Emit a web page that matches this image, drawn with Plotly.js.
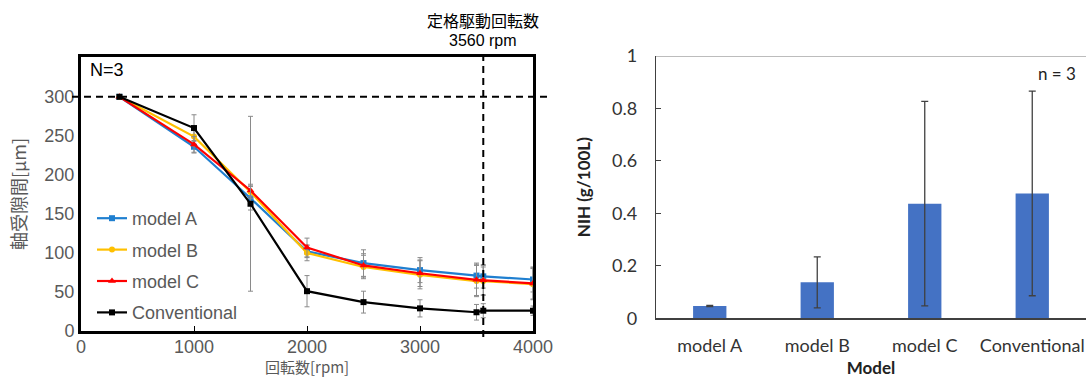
<!DOCTYPE html>
<html>
<head>
<meta charset="utf-8">
<script src="https://cdn.plot.ly/plotly-3.0.1.min.js"></script>
<style>html,body{margin:0;padding:0;background:#fff;}#chart{width:1086px;height:378px;}</style>
</head>
<body>
<div id="chart"></div>
<script>
// ---- Left chart data (axial clearance vs rotation speed) ----
const speeds = [340, 1000, 1500, 2000, 2500, 3000, 3500, 3560, 4000];
const modelA = [300, 236, 170, 102, 87, 78, 71, 70, 66];
const modelB = [300, 249, 178, 100, 82, 72, 64, 64, 60];
const modelC = [300, 239, 180, 107, 84, 74, 65.5, 65, 61];
const conventional = [300, 260, 163, 51, 37, 29, 24, 26, 26];
const errA = [0, 8, 15, 8, 17, 16, 16, 15, 16];
const errB = [0, 12, 8, 10, 15, 18, 20, 18, 20];
const errC = [0, 10, 8, 12, 15, 17, 20, 19, 20];
const errConv = [0, 17, 112, 20, 14, 11, 10, 9, 6];
const seriesNames = ['model A', 'model B', 'model C', 'Conventional'];
const initialGap = 300;
const ratedSpeed = 3560;
const leftYTicks = [0, 50, 100, 150, 200, 250, 300];
const leftXTicks = [0, 1000, 2000, 3000, 4000];
const leftXTitle = '回転数[rpm]';

// ---- Right chart data (NIH by model) ----
const models = ['model A', 'model B', 'model C', 'Conventional'];
const nih = [0.047, 0.137, 0.437, 0.476];
const nihErr = [0.002, 0.097, 0.39, 0.39];
const rightYTicks = [0, 0.2, 0.4, 0.6, 0.8, 1];
const rightYTickText = ['0', '0.2', '0.4', '0.6', '0.8', '1'];

const W = 1086, H = 378;
const px = v => v / W;
const py = v => (H - v) / H;

const sansL = 'Liberation Sans, Arial, sans-serif';
const cjk = 'Noto Sans CJK JP, sans-serif';
const sansR = 'Lato, Open Sans, sans-serif';
const grayTxt = '#595959';

const lineSeries = [
  {y: modelA, e: errA, color: '#1F7FD0', symbol: 'square'},
  {y: modelB, e: errB, color: '#FFC000', symbol: 'circle'},
  {y: modelC, e: errC, color: '#FF0000', symbol: 'triangle-up'},
  {y: conventional, e: errConv, color: '#000000', symbol: 'square'}
];

const traces = lineSeries.map((s, i) => ({
  type: 'scatter', mode: 'lines+markers', name: seriesNames[i],
  x: speeds, y: s.y, xaxis: 'x', yaxis: 'y', legendgroup: 'g' + i,
  line: {color: s.color, width: 2.2},
  marker: {color: s.color, symbol: s.symbol, size: s.symbol === 'triangle-up' ? 7 : 6},
  error_y: {type: 'data', array: s.e, visible: true, color: '#8a8a8a', thickness: 1, width: 2.5}
}));

traces.push({
  type: 'bar', x: models, y: nih, xaxis: 'x2', yaxis: 'y2', showlegend: false,
  width: 0.31, marker: {color: '#4472C4'},
  error_y: {type: 'data', array: nihErr, visible: true, color: '#404040', thickness: 1.3, width: 3.5}
});

const layout = {
  width: W, height: H,
  margin: {l: 0, r: 0, t: 0, b: 0},
  paper_bgcolor: '#fff', plot_bgcolor: '#fff',
  showlegend: true,
  legend: {
    x: px(92), y: py(200), xanchor: 'left', yanchor: 'top',
    bgcolor: 'rgba(0,0,0,0)', tracegroupgap: 5,
    font: {family: sansL, size: 18, color: grayTxt}
  },
  xaxis: {
    domain: [px(81), px(533)], anchor: 'y', range: [0, 4000],
    tickvals: leftXTicks, ticks: 'inside', ticklen: 5, tickcolor: '#000',
    showline: true, mirror: true, linecolor: '#000', linewidth: 3,
    showgrid: false, zeroline: false, ticklabelstandoff: -3,
    tickfont: {family: sansL, size: 18, color: grayTxt}
  },
  yaxis: {
    domain: [py(331), py(57)], anchor: 'x', range: [0, 351],
    tickvals: leftYTicks, ticks: '',
    showline: true, mirror: true, linecolor: '#000', linewidth: 3,
    showgrid: false, zeroline: false,
    tickfont: {family: sansL, size: 18, color: grayTxt},
    title: {text: '軸受隙間[μm]', font: {family: cjk, size: 18, color: grayTxt}, standoff: 14}
  },
  xaxis2: {
    domain: [px(656), 1], anchor: 'y2', range: [-0.5, 3.5],
    type: 'category', ticks: '', showline: true, linecolor: '#404040', linewidth: 1.3,
    showgrid: false, zeroline: false, ticklabelstandoff: 11,
    tickfont: {family: sansR, size: 18, color: '#333'},
    title: {text: '<b>Model</b>', font: {family: sansR, size: 17, color: '#222'}, standoff: 8}
  },
  yaxis2: {
    domain: [py(318.3), py(56)], anchor: 'x2', range: [0, 1],
    tickvals: rightYTicks, ticktext: rightYTickText, ticks: 'inside', ticklen: 5, tickcolor: '#404040',
    showline: true, linecolor: '#404040', linewidth: 1.3,
    showgrid: false, zeroline: false, ticklabelstandoff: 14,
    tickfont: {family: sansR, size: 18, color: '#333'},
    title: {text: '<b>NIH (g/100L)</b>', font: {family: sansR, size: 17, color: '#222'}, standoff: 17}
  },
  shapes: [
    {type: 'line', xref: 'paper', yref: 'y', x0: px(72), x1: px(548), y0: initialGap, y1: initialGap,
     line: {color: '#000', width: 2, dash: '7px,5px'}},
    {type: 'line', xref: 'x', yref: 'paper', x0: ratedSpeed, x1: ratedSpeed, y0: py(337), y1: py(52),
     line: {color: '#000', width: 2, dash: '7px,5px'}},
    {type: 'line', xref: 'paper', yref: 'y2', x0: px(656), x1: 1, y0: 1, y1: 1,
     line: {color: '#A6A6A6', width: 1.3}}
  ],
  annotations: [
    {xref: 'paper', yref: 'paper', x: (px(81) + px(533)) / 2, y: py(366), xanchor: 'center', yanchor: 'middle',
     text: leftXTitle, showarrow: false, font: {family: cjk, size: 15, color: grayTxt}},
    {xref: 'paper', yref: 'paper', x: px(88), y: py(70), xanchor: 'left', yanchor: 'middle',
     text: 'N=3', showarrow: false, font: {family: sansL, size: 18, color: '#000'}},
    {xref: 'x', yref: 'paper', x: ratedSpeed, y: py(20), xanchor: 'center', yanchor: 'middle',
     text: '定格駆動回転数', showarrow: false, font: {family: cjk, size: 16, color: '#000'}},
    {xref: 'x', yref: 'paper', x: ratedSpeed, y: py(40), xanchor: 'center', yanchor: 'middle',
     text: ratedSpeed + ' rpm', showarrow: false, font: {family: sansL, size: 16, color: '#000'}},
    {xref: 'paper', yref: 'paper', x: px(1057), y: py(73), xanchor: 'center', yanchor: 'middle',
     text: 'n = 3', showarrow: false, font: {family: sansR, size: 17, color: '#222'}}
  ]
};

Plotly.newPlot('chart', traces, layout, {displayModeBar: false, staticPlot: true});
</script>
</body>
</html>
